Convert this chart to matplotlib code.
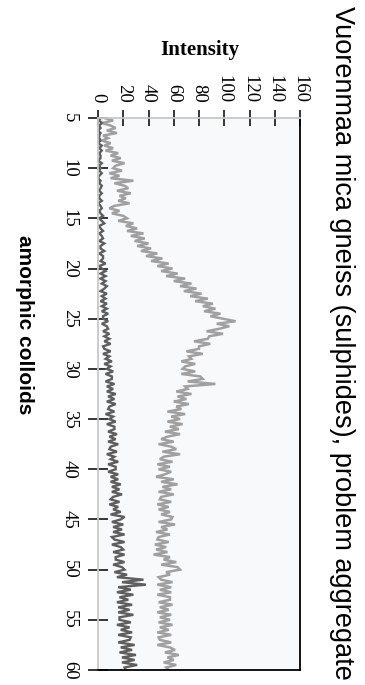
import numpy as np
import matplotlib
matplotlib.use("Agg")
import matplotlib.pyplot as plt

# 2-theta scan, 5.00 to 60.00 deg in 0.25 deg steps
two_theta = np.arange(0, 221) * 0.25 + 5.0

# problem aggregate (light trace)
aggregate = [
    5, 12, 3, 10,  14, 7, 15, 4,  8, 3, 10, 5,  12, 6, 16, 10,
    18, 11, 21, 14,  12, 19, 9, 17,  10, 28, 13, 21,  24, 15, 26, 17,
    22, 16, 25, 13,  9, 17, 11, 20,  23, 16, 28, 22,  31, 23, 36, 26,
    37, 29, 40, 31,  42, 34, 47, 38,  51, 42, 56, 47,  59, 50, 63, 54,
    69, 60, 74, 65,  78, 68, 82, 73,  87, 77, 91, 83,  93, 84, 97, 89,
    99, 109, 94, 104,  96, 86, 99, 88,  87, 76, 89, 80,  80, 70, 83, 72,
    74, 66, 77, 69,  67, 77, 66, 81,  83, 71, 93, 69,  71, 62, 74, 63,
    70, 60, 72, 62,  66, 55, 69, 58,  65, 55, 67, 57,  64, 53, 65, 55,
    50, 60, 48, 58,  62, 51, 65, 52,  49, 59, 47, 57,  48, 58, 53, 46,
    60, 50, 63, 51,  58, 48, 60, 50,  49, 58, 47, 56,  48, 57, 50, 59,
    58, 48, 61, 50,  55, 46, 57, 48,  47, 56, 45, 54,  46, 55, 44, 57,
    52, 62, 50, 63,  65, 54, 57, 48,  50, 59, 47, 58,  49, 58, 47, 57,
    57, 48, 59, 49,  56, 47, 58, 49,  57, 48, 59, 49,  56, 47, 58, 48,
    49, 58, 47, 57,  61, 53, 64, 55,  60, 52, 62, 54,  56,
]

# amorphic colloids (dark trace)
colloids = [
    2, 1, 3, 1,  2, 0, 2, 1,  1, 2, 0, 3,  1, 3, 1, 2,
    2, 0, 3, 1,  2, 1, 3, 1,  0, 2, 1, 3,  2, 1, 3, 1,
    1, 3, 0, 2,  3, 1, 2, 4,  1, 3, 5, 1,  2, 4, 1, 3,
    4, 1, 5, 2,  2, 5, 1, 4,  4, 2, 6, 1,  3, 6, 2, 6,
    2, 6, 3, 7,  5, 2, 7, 3,  6, 2, 7, 3,  7, 3, 8, 4,
    4, 8, 3, 7,  8, 4, 9, 5,  9, 5, 10, 4,  5, 10, 4, 9,
    6, 11, 5, 10,  7, 12, 6, 11,  11, 6, 13, 7,  12, 7, 14, 8,
    13, 7, 14, 9,  8, 13, 6, 12,  9, 14, 7, 13,  13, 8, 15, 9,
    14, 8, 16, 10,  9, 15, 7, 13,  10, 16, 8, 14,  14, 8, 16, 10,
    16, 10, 18, 11,  17, 11, 19, 12,  10, 17, 9, 16,  12, 18, 10, 21,
    18, 11, 20, 12,  19, 12, 21, 11,  13, 21, 11, 18,  20, 12, 21, 14,
    14, 21, 12, 19,  21, 13, 23, 15,  36, 19, 38, 16,  26, 15, 28, 17,
    24, 15, 27, 16,  25, 16, 28, 17,  17, 26, 15, 25,  18, 27, 16, 26,
    25, 16, 29, 18,  27, 17, 30, 19,  29, 19, 31, 21,  22,
]

intensity_ticks = [0, 20, 40, 60, 80, 100, 120, 140, 160]
angle_ticks = [5, 10, 15, 20, 25, 30, 35, 40, 45, 50, 55, 60]

title = "Vuorenmaa mica gneiss (sulphides), problem aggregate"
series_label = "amorphic colloids"
axis_label = "Intensity"

serif = ["Liberation Serif", "DejaVu Serif"]
sans = ["Liberation Sans", "DejaVu Sans"]

W, H = 365, 685
fig = plt.figure(figsize=(W / 100, H / 100), dpi=100)
fig.patch.set_facecolor("white")

# page is turned a quarter: intensity runs left->right, 2-theta top->bottom
x0, x1 = 98, 300
y0, y1 = 118, 670
ax = fig.add_axes([x0 / W, 1 - y1 / H, (x1 - x0) / W, (y1 - y0) / H])
ax.set_facecolor("#f8f9fb")

ax.plot(aggregate, two_theta, color="#a0a0a0", lw=1.8, solid_joinstyle="miter")
ax.plot(colloids, two_theta, color="#5e5e5e", lw=1.7, solid_joinstyle="miter")

ax.set_xlim(0, 160)
ax.set_ylim(60, 5)

ax.xaxis.tick_top()
ax.set_xticks(intensity_ticks)
ax.set_xticklabels([str(v) for v in intensity_ticks], rotation=270,
                   family=serif, fontsize=13.5)
ax.set_yticks(angle_ticks)
ax.set_yticklabels([str(v) for v in angle_ticks], rotation=270,
                   family=serif, fontsize=13.5, va="center")

ax.tick_params(axis="x", direction="inout", length=12, width=1.1,
               color="black", pad=5)
ax.tick_params(axis="y", direction="inout", length=15, width=1.1,
               color="black", pad=7)

for side in ("top", "left"):
    ax.spines[side].set_color("#c8c8c8")
    ax.spines[side].set_linewidth(1.3)
for side in ("right", "bottom"):
    ax.spines[side].set_color("black")
    ax.spines[side].set_linewidth(1.3)

fig.text(200 / W, 1 - 50 / H, axis_label, ha="center", va="center",
         family=serif, fontweight="bold", fontsize=15)
fig.text(342 / W, 1 - 343 / H, title, ha="center", va="center",
         rotation=270, family=sans, fontsize=19.5)
fig.text(24 / W, 1 - 325 / H, series_label, ha="center", va="center",
         rotation=270, family=sans, fontweight="bold", fontsize=15)

fig.savefig("out.png", dpi=100)
